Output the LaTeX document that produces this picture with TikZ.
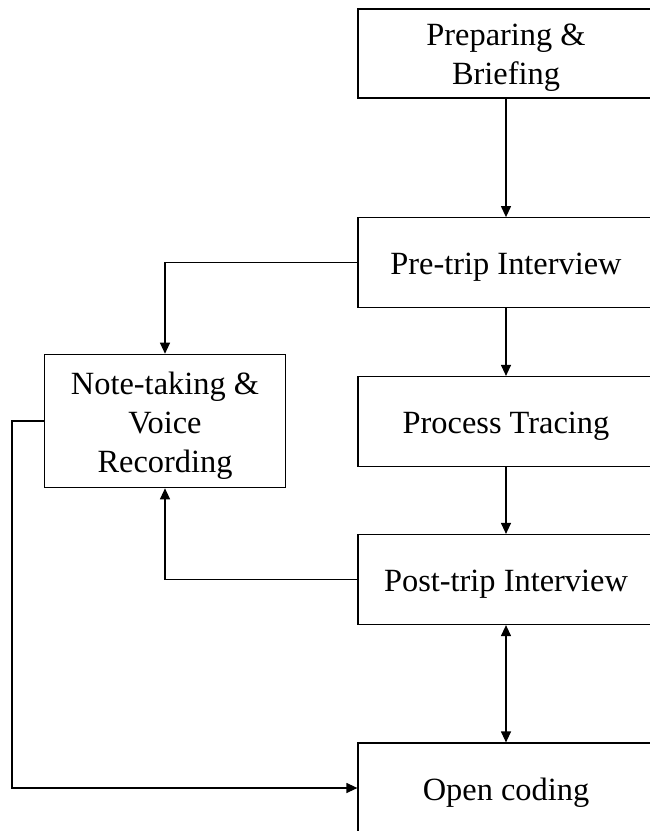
\documentclass[tikz,border=0pt]{standalone}
\usepackage{fontspec}
\setmainfont{Liberation Serif}
\usetikzlibrary{arrows.meta}
\begin{document}
\begin{tikzpicture}[x=1pt,y=-1pt,
  stage/.style={draw, line width=1.2pt, rectangle, minimum width=296pt, minimum height=90pt},
  caption/.style={align=center, inner sep=0pt, yshift=-4.5pt,
    font=\fontsize{32.4}{39}\selectfont},
  tip/.tip={Triangle[length=11pt,width=10pt]},
  link/.style={line width=1.2pt, -tip},
  twoway/.style={line width=1.2pt, tip-tip}]
  \useasboundingbox (0,0) rectangle (650,831);
  \clip (0,0) rectangle (650,831);
  \fill[white] (0,0) rectangle (650,831);

  % main column of stages
  \node[stage, minimum height=89pt, label={[caption]center:{Preparing \&\\Briefing}}]
    (prep) at (506,53.5) {};
  \node[stage, label={[caption]center:{Pre-trip Interview}}]  (pre)  at (506,262.7) {};
  \node[stage, label={[caption]center:{Process Tracing}}]     (proc) at (506,421.5) {};
  \node[stage, label={[caption]center:{Post-trip Interview}}] (post) at (506,579.5) {};
  \node[stage, label={[caption]center:{Open coding}}]         (open) at (506,788)   {};

  % side box for field notes
  \node[stage, minimum width=241.4pt, minimum height=133.4pt,
    label={[caption]center:{Note-taking \&\\Voice\\Recording}}] (note) at (165,421) {};

  \coordinate (bend) at (12,421);

  % connectors
  \draw[link] (prep) -- (pre);
  \draw[link] (pre) -- (proc);
  \draw[link] (proc) -- (post);
  \draw[twoway] (post) -- (open);
  \draw[link] (pre.west) -| (note.north);
  \draw[link] (post.west) -| (note.south);
  \draw[link] (note.west) -- (bend) |- (open.west);
\end{tikzpicture}
\end{document}
